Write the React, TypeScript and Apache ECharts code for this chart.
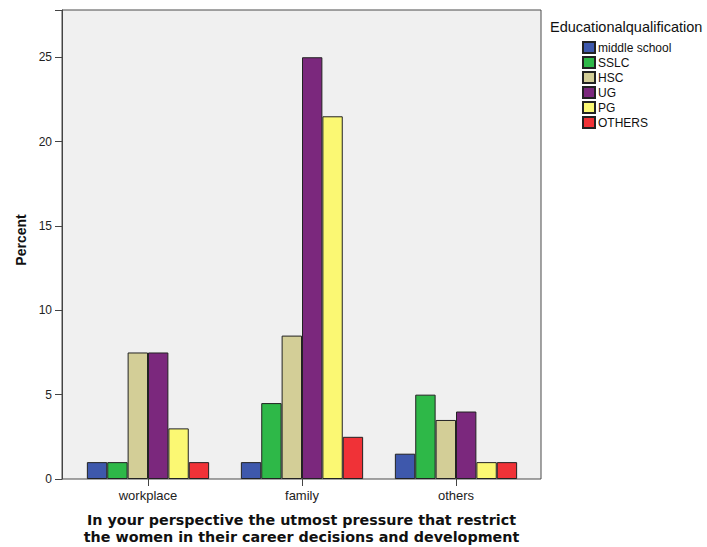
import React, { useEffect, useRef } from "react";
import * as echarts from "echarts";

const categories = ["workplace", "family", "others"];
const seriesNames = ["middle school", "SSLC", "HSC", "UG", "PG", "OTHERS"];
const middleSchool = [1, 1, 1.5];
const sslc = [1, 4.5, 5];
const hsc = [7.5, 8.5, 3.5];
const ug = [7.5, 25, 4];
const pg = [3, 21.5, 1];
const others = [1, 2.5, 1];
const seriesData = [middleSchool, sslc, hsc, ug, pg, others];
const colors = ["#3E58AC", "#2EB848", "#D3CE97", "#7B287D", "#FBF873", "#F03237"];
const yMax = 27.8;

export default function App() {
  const ref = useRef<HTMLDivElement>(null);
  useEffect(() => {
    if (!ref.current) return;
    const chart = echarts.init(ref.current, undefined, { renderer: "svg" });
    chart.setOption({
      animation: false,
      backgroundColor: "#ffffff",
      textStyle: { fontFamily: "Liberation Sans" },
      grid: [
        {
          left: 62,
          top: 10,
          right: 166,
          bottom: 68,
          show: true,
          backgroundColor: "#F0F0F0",
          borderColor: "#4a4a4a",
          borderWidth: 1,
        },
        { left: 71, top: 10, right: 174, bottom: 68, show: false },
      ],
      legend: {
        orient: "vertical",
        left: 582,
        top: 41,
        padding: 0,
        itemWidth: 12,
        itemHeight: 11,
        itemGap: 2,
        icon: "rect",
        data: seriesNames,
        textStyle: {
          fontSize: 12,
          lineHeight: 13,
          color: "#111",
          fontFamily: "Liberation Sans",
          padding: [0, 0, 0, -2],
        },
      },
      graphic: [
        {
          type: "text",
          x: 550,
          y: 19,
          style: {
            text: "Educationalqualification",
            fontSize: 14.5,
            fontFamily: "Liberation Sans",
            fill: "#111",
          },
        },
        {
          type: "text",
          x: 21,
          y: 240,
          rotation: Math.PI / 2,
          style: {
            text: "Percent",
            fontSize: 14,
            fontWeight: "bold",
            fontFamily: "Liberation Sans",
            fill: "#111",
            align: "center",
            verticalAlign: "middle",
          },
        },
        {
          type: "text",
          x: 301.5,
          y: 511,
          style: {
            text: "In your perspective the utmost pressure that restrict\nthe women in their career decisions and development",
            fontSize: 14.3,
            fontWeight: "bold",
            fontFamily: "DejaVu Sans",
            fill: "#111",
            align: "center",
            verticalAlign: "top",
            lineHeight: 17,
          },
        },
      ],
      xAxis: [
        {
          type: "value",
          gridIndex: 0,
          min: 0,
          max: 1,
          show: false,
        },
        {
          type: "category",
          gridIndex: 1,
          data: categories,
          axisLine: { show: false },
          axisTick: { show: true, alignWithLabel: true, length: 7, lineStyle: { color: "#444" } },
          axisLabel: { fontSize: 13, color: "#222", margin: 10 },
        },
      ],
      yAxis: [
        {
          type: "value",
          gridIndex: 0,
          min: 0,
          max: yMax,
          interval: 5,
          splitLine: { show: false },
          axisLine: { show: true, lineStyle: { color: "#444" } },
          axisTick: { show: true, length: 7, lineStyle: { color: "#444" } },
          axisLabel: {
            fontSize: 12,
            color: "#222",
            margin: 10,
            formatter: (v: number) => (v % 5 === 0 ? String(v) : ""),
          },
        },
        {
          type: "value",
          gridIndex: 1,
          min: 0,
          max: yMax,
          show: false,
          splitLine: { show: false },
        },
      ],
      series: seriesNames.map((name, i) => ({
        name,
        type: "bar",
        xAxisIndex: 1,
        yAxisIndex: 1,
        data: seriesData[i],
        barGap: "0%",
        barCategoryGap: "20.6%",
        itemStyle: { color: colors[i], borderColor: "#222", borderWidth: 1 },
      })),
    });
    return () => chart.dispose();
  }, []);
  return <div ref={ref} style={{ width: 707, height: 547, position: "absolute", left: 0, top: 0 }} />;
}
